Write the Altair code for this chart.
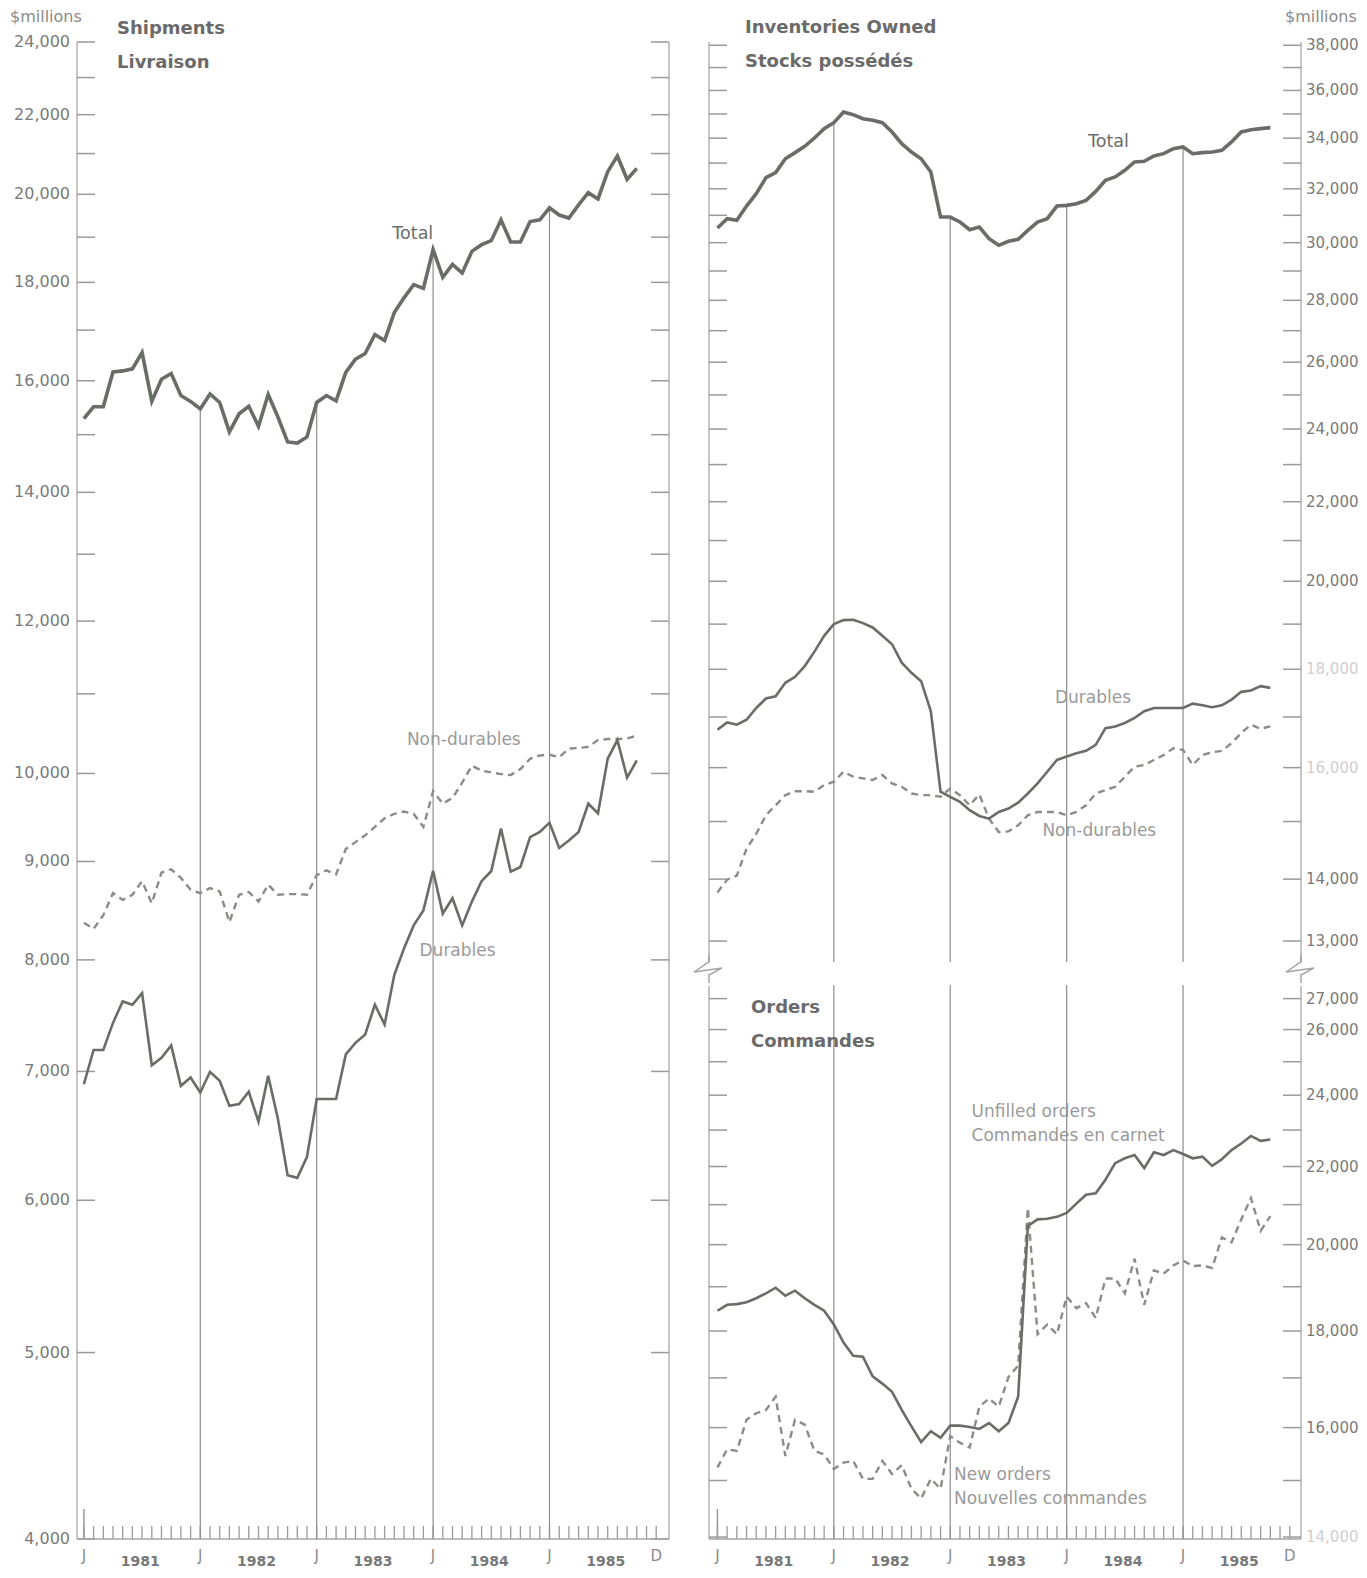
import altair as alt
import pandas as pd

# ---------------- data (monthly, Jan 1981 = 0 ... Oct 1985 = 57) ----------------
months = list(range(58))

ship_total = [15290, 15510, 15510, 16170, 16190, 16230, 16550, 15610, 16030, 16140,
              15720, 15610, 15470, 15750, 15590, 15050, 15380, 15520, 15150, 15740,
              15320, 14870, 14850, 14960, 15590, 15720, 15620, 16160, 16420, 16530,
              16910, 16790, 17360, 17670, 17950, 17870, 18720, 18110, 18390, 18200,
              18680, 18830, 18920, 19400, 18890, 18890, 19360, 19400, 19680, 19510,
              19440, 19750, 20040, 19890, 20550, 20940, 20360, 20630]
ship_dur = [6895, 7182, 7182, 7419, 7612, 7582, 7688, 7052, 7116, 7222,
            6881, 6950, 6826, 6997, 6922, 6719, 6732, 6832, 6592, 6963,
            6614, 6183, 6163, 6320, 6773, 6773, 6773, 7144, 7244, 7317,
            7582, 7404, 7857, 8110, 8337, 8488, 8900, 8456, 8612, 8337,
            8578, 8790, 8898, 9362, 8891, 8941, 9267, 9324, 9427, 9147,
            9229, 9324, 9644, 9535, 10177, 10407, 9951, 10156]
ship_nondur = [8364, 8303, 8439, 8665, 8595, 8648, 8790, 8560, 8880, 8916,
               8825, 8700, 8665, 8718, 8683, 8370, 8648, 8677, 8578, 8754,
               8648, 8655, 8655, 8648, 8854, 8905, 8862, 9136, 9211, 9286,
               9381, 9477, 9527, 9554, 9527, 9381, 9790, 9644, 9711, 9890,
               10094, 10033, 10012, 9992, 9980, 10053, 10177, 10218, 10226, 10197,
               10302, 10310, 10323, 10407, 10420, 10420, 10428, 10462]

inv_total = [30533, 30875, 30814, 31346, 31814, 32429, 32626, 33174, 33417, 33668,
             34006, 34391, 34637, 35082, 34971, 34804, 34735, 34637, 34253, 33778,
             33440, 33174, 32650, 30935, 30935, 30752, 30472, 30570, 30146, 29906,
             30050, 30123, 30446, 30752, 30875, 31346, 31371, 31434, 31559, 31901,
             32326, 32456, 32717, 33045, 33071, 33282, 33375, 33577, 33642, 33375,
             33417, 33440, 33509, 33846, 34253, 34348, 34391, 34431]
inv_dur = [16743, 16891, 16844, 16945, 17185, 17380, 17428, 17710, 17839, 18069,
           18384, 18735, 19000, 19092, 19099, 19023, 18924, 18735, 18548, 18143,
           17924, 17746, 17117, 15544, 15451, 15358, 15204, 15101, 15052, 15173,
           15234, 15344, 15512, 15700, 15922, 16148, 16213, 16279, 16325, 16443,
           16775, 16809, 16878, 16980, 17117, 17185, 17185, 17185, 17185, 17275,
           17241, 17199, 17241, 17359, 17520, 17548, 17640, 17604]
inv_nondur = [13779, 13992, 14060, 14518, 14782, 15113, 15295, 15481, 15555, 15555,
              15544, 15669, 15732, 15922, 15827, 15795, 15764, 15859, 15700, 15637,
              15512, 15481, 15481, 15451, 15607, 15481, 15295, 15494, 15052, 14812,
              14824, 14932, 15113, 15173, 15173, 15173, 15113, 15173, 15295, 15512,
              15575, 15637, 15827, 16019, 16051, 16148, 16245, 16376, 16344, 16051,
              16245, 16298, 16325, 16475, 16676, 16844, 16762, 16809]

ord_unfilled = [18451, 18585, 18600, 18644, 18735, 18848, 18976, 18794, 18908, 18735,
                18585, 18451, 18144, 17748, 17466, 17445, 17031, 16882, 16714, 16348,
                16025, 15719, 15929, 15802, 16038, 16038, 16011, 15973, 16088, 15929,
                16088, 16613, 20460, 20626, 20643, 20690, 20791, 21025, 21253, 21295,
                21649, 22089, 22222, 22311, 21957, 22383, 22311, 22445, 22338, 22222,
                22266, 22018, 22195, 22445, 22626, 22836, 22699, 22736]
ord_new = [15242, 15582, 15550, 16153, 16283, 16348, 16613, 15456, 16153, 16057,
           15550, 15487, 15211, 15332, 15363, 15030, 15030, 15363, 15120, 15284,
           14849, 14673, 15030, 14849, 15834, 15708, 15614, 16414, 16579, 16414,
           17017, 17258, 20916, 17927, 18144, 17927, 18773, 18510, 18623, 18289,
           19190, 19190, 18848, 19657, 18585, 19383, 19305, 19500, 19618, 19484,
           19500, 19438, 20175, 20054, 20626, 21169, 20338, 20708]

tick_months = list(range(60))
jan_months = [12, 24, 36, 48]
year_labels = ["1981", "1982", "1983", "1984", "1985"]
x_label_months = [0, 12, 24, 36, 48, 59]
x_label_text = ["J", "J", "J", "J", "J", "D"]

left_ticks = list(range(4000, 24001, 1000))
left_labels = [4000, 5000, 6000, 7000, 8000, 9000, 10000, 12000, 14000,
               16000, 18000, 20000, 22000, 24000]
inv_ticks = list(range(13000, 38001, 1000))
inv_labels = [13000, 14000, 16000, 18000, 20000, 22000, 24000, 26000, 28000,
              30000, 32000, 34000, 36000, 38000]
inv_faded = [16000, 18000]
ord_ticks = list(range(14000, 27001, 1000))
ord_labels = [14000, 16000, 18000, 20000, 22000, 24000, 26000, 27000]
ord_faded = [14000]

# ---------------- styles ----------------
FONT = "DejaVu Sans"
LINE = "#696d67"
DASHC = "#8a8c88"
TICKC = "#9a9a9a"
FRAME = "#c6c6c6"
JLINE = "#8e8e8e"
LABELC = "#7a7a7a"
FADEC = "#cfcfcf"
TITLEC = "#6a6a6a"
NOTEC = "#9a9a9a"
TL = 18

LW, LH = 592, 1497
RW, RTH, RBH = 592, 924, 565

sx_left = alt.Scale(domain=[-0.71, 60.32], nice=False, zero=False)
sx_right = alt.Scale(domain=[-0.87, 60.16], nice=False, zero=False)
sy_left = alt.Scale(type="log", domain=[4000, 24000], nice=False)
sy_inv = alt.Scale(type="log", domain=[12617, 38150], nice=False)
sy_ord = alt.Scale(type="log", domain=[13967, 27823], nice=False)

one = pd.DataFrame({"a": [0]})
ship_df = pd.DataFrame({"m": months, "total": ship_total, "dur": ship_dur, "nondur": ship_nondur})
inv_df = pd.DataFrame({"m": months, "total": inv_total, "dur": inv_dur, "nondur": inv_nondur})
ord_df = pd.DataFrame({"m": months, "unfilled": ord_unfilled, "new": ord_new})
tick_df = pd.DataFrame({"m": tick_months})
jan_df = pd.DataFrame({"m": jan_months})
year_df = pd.DataFrame({"yr": year_labels, "m": [12 * i + 5.8 for i in range(len(year_labels))]})
xlab_df = pd.DataFrame({"m": x_label_months, "t": x_label_text})


def X(sx, field="m"):
    return alt.X(field + ":Q", scale=sx, axis=None)


def Y(sy, field):
    return alt.Y(field + ":Q", scale=sy, axis=None)


def ytick_layers(vals, sy, w):
    df = pd.DataFrame({"v": vals})
    a = alt.Chart(df).mark_rule(color=TICKC, strokeWidth=1.5).encode(
        y=Y(sy, "v"), x=alt.value(0), x2=alt.value(TL))
    b = alt.Chart(df).mark_rule(color=TICKC, strokeWidth=1.5).encode(
        y=Y(sy, "v"), x=alt.value(w - TL), x2=alt.value(w))
    return [a, b]


def ylabels(vals, sy, side, w, faded=(), size=16):
    df = pd.DataFrame({"v": vals})
    x = -7 if side == "left" else w + 5
    return alt.Chart(df).transform_calculate(lab="format(datum.v, ',d')").mark_text(
        font=FONT, fontSize=size, align="right" if side == "left" else "left",
        baseline="middle").encode(
        x=alt.value(x), y=Y(sy, "v"), text="lab:N",
        color=alt.condition(alt.FieldOneOfPredicate(field="v", oneOf=list(faded) or [-1]),
                            alt.value(FADEC), alt.value(LABELC)))


def month_ticks(sx, h):
    a = alt.Chart(tick_df).mark_rule(color=TICKC, strokeWidth=1.3).encode(
        x=X(sx), y=alt.value(h), y2=alt.value(h - 13))
    b = alt.Chart(tick_df).transform_filter("datum.m == 0").mark_rule(
        color=TICKC, strokeWidth=1.5).encode(x=X(sx), y=alt.value(h), y2=alt.value(h - 30))
    return [a, b]


def xlabels(sx, h):
    a = alt.Chart(xlab_df).mark_text(font=FONT, fontSize=15, color="#8c8c8c",
                                     baseline="middle").encode(
        x=X(sx), y=alt.value(h + 17), text="t:N")
    b = alt.Chart(year_df).mark_text(font=FONT, fontSize=14, fontWeight="bold",
                                     color="#787878", baseline="middle").encode(
        x=X(sx), y=alt.value(h + 23), text="yr:N")
    return [a, b]


def baseline(w, h):
    return alt.Chart(one).mark_rule(color="#a6a6a6", strokeWidth=1.6).encode(
        x=alt.value(0), x2=alt.value(w), y=alt.value(h))


def label(txt, x, y, size=16, bold=False, color=NOTEC):
    return alt.Chart(one).mark_text(font=FONT, fontSize=size, align="left", baseline="middle",
                                    fontWeight="bold" if bold else "normal", color=color).encode(
        x=alt.value(x), y=alt.value(y), text=alt.value(txt))


def note(txt, m, v, sx, sy, color=NOTEC, size=17):
    df = pd.DataFrame({"t": [txt], "m": [m], "v": [v]})
    return alt.Chart(df).mark_text(font=FONT, fontSize=size, align="left", baseline="middle",
                                   color=color).encode(x=X(sx), y=Y(sy, "v"), text="t:N")


def vline(x, h, y0=0):
    return alt.Chart(one).mark_rule(color=FRAME, strokeWidth=2).encode(
        x=alt.value(x), y=alt.value(y0), y2=alt.value(h))


ZZ = "M0,-0.93 L0,-0.47 L-1,0.2 L0.87,-0.07 L0,0.4 L0,0.93"


def zigzag(x, y):
    return alt.Chart(one).mark_point(shape=ZZ, size=900, filled=False, color="#a4a4a4",
                                     strokeWidth=1.5, opacity=1).encode(
        x=alt.value(x), y=alt.value(y))


# ---------------- left: shipments ----------------
ship_base = alt.Chart(ship_df)
left = alt.layer(
    vline(0, LH), vline(LW, LH),
    *ytick_layers(left_ticks, sy_left, LW),
    *month_ticks(sx_left, LH),
    baseline(LW, LH),
    ship_base.transform_filter(alt.FieldOneOfPredicate(field="m", oneOf=jan_months))
    .mark_rule(color=JLINE, strokeWidth=1.2).encode(
        x=X(sx_left), y=Y(sy_left, "total"), y2=alt.value(LH)),
    ship_base.mark_line(color=DASHC, strokeWidth=2.4, strokeDash=[7, 5]).encode(
        x=X(sx_left), y=Y(sy_left, "nondur")),
    ship_base.mark_line(color=LINE, strokeWidth=2.6).encode(x=X(sx_left), y=Y(sy_left, "dur")),
    ship_base.mark_line(color=LINE, strokeWidth=3.6).encode(x=X(sx_left), y=Y(sy_left, "total")),
    ylabels(left_labels, sy_left, "left", LW),
    *xlabels(sx_left, LH),
    note("Total", 31.8, 19070, sx_left, sy_left, color="#6c6c6c", size=17.5),
    note("Non-durables", 33.3, 10406, sx_left, sy_left),
    note("Durables", 34.6, 8090, sx_left, sy_left),
    label("$millions", -67, -25, size=16, color="#8a8a8a"),
    label("Shipments", 40, -13, size=18, bold=True, color=TITLEC),
    label("Livraison", 40, 21, size=18, bold=True, color=TITLEC),
).properties(width=LW, height=LH)

# ---------------- right top: inventories ----------------
inv_base = alt.Chart(inv_df)
rtop = alt.layer(
    vline(0, RTH - 4), vline(RW, RTH - 4),
    *ytick_layers(inv_ticks, sy_inv, RW),
    inv_base.transform_filter(alt.FieldOneOfPredicate(field="m", oneOf=jan_months))
    .mark_rule(color=JLINE, strokeWidth=1.2).encode(
        x=X(sx_right), y=Y(sy_inv, "total"), y2=alt.value(RTH - 4)),
    inv_base.mark_line(color=DASHC, strokeWidth=2.4, strokeDash=[7, 5]).encode(
        x=X(sx_right), y=Y(sy_inv, "nondur")),
    inv_base.mark_line(color=LINE, strokeWidth=2.6).encode(x=X(sx_right), y=Y(sy_inv, "dur")),
    inv_base.mark_line(color=LINE, strokeWidth=3.6).encode(x=X(sx_right), y=Y(sy_inv, "total")),
    ylabels(inv_labels, sy_inv, "right", RW, faded=inv_faded, size=15),
    note("Total", 38.2, 33850, sx_right, sy_inv, color="#6c6c6c", size=17.5),
    note("Durables", 34.8, 17384, sx_right, sy_inv),
    note("Non-durables", 33.5, 14828, sx_right, sy_inv),
    label("$millions", RW - 16, -25, size=16, color="#8a8a8a"),
    label("Inventories Owned", 36, -14, size=18, bold=True, color=TITLEC),
    label("Stocks possédés", 36, 20, size=18, bold=True, color=TITLEC),
    zigzag(0, RTH + 3),
    zigzag(RW, RTH + 3),
).properties(width=RW, height=RTH)

# ---------------- right bottom: orders ----------------
ord_base = alt.Chart(ord_df)
rbot = alt.layer(
    vline(0, RBH, 12), vline(RW, RBH, 12),
    *ytick_layers(ord_ticks, sy_ord, RW),
    *month_ticks(sx_right, RBH),
    baseline(RW, RBH),
    alt.Chart(jan_df).mark_rule(color=JLINE, strokeWidth=1.2).encode(
        x=X(sx_right), y=alt.value(11), y2=alt.value(RBH)),
    ord_base.mark_line(color=DASHC, strokeWidth=2.4, strokeDash=[7, 5]).encode(
        x=X(sx_right), y=Y(sy_ord, "new")),
    ord_base.mark_line(color=LINE, strokeWidth=2.6).encode(x=X(sx_right), y=Y(sy_ord, "unfilled")),
    ylabels(ord_labels, sy_ord, "right", RW, faded=ord_faded, size=15),
    *xlabels(sx_right, RBH),
    note("Unfilled orders", 26.2, 23525, sx_right, sy_ord),
    note("Commandes en carnet", 26.2, 22844, sx_right, sy_ord),
    note("New orders", 24.4, 15110, sx_right, sy_ord),
    note("Nouvelles commandes", 24.4, 14672, sx_right, sy_ord),
    label("Orders", 42, 34, size=18, bold=True, color=TITLEC),
    label("Commandes", 42, 68, size=18, bold=True, color=TITLEC),
).properties(width=RW, height=RBH)

right = alt.vconcat(rtop, rbot, spacing=8, bounds="flush")
chart = alt.hconcat(left, right, spacing=40, bounds="flush").properties(
    padding={"left": 2, "top": 1, "right": 0, "bottom": 0}
).configure_view(stroke=None)

chart.save("out.html", embed_options={"renderer": "svg", "actions": False})
